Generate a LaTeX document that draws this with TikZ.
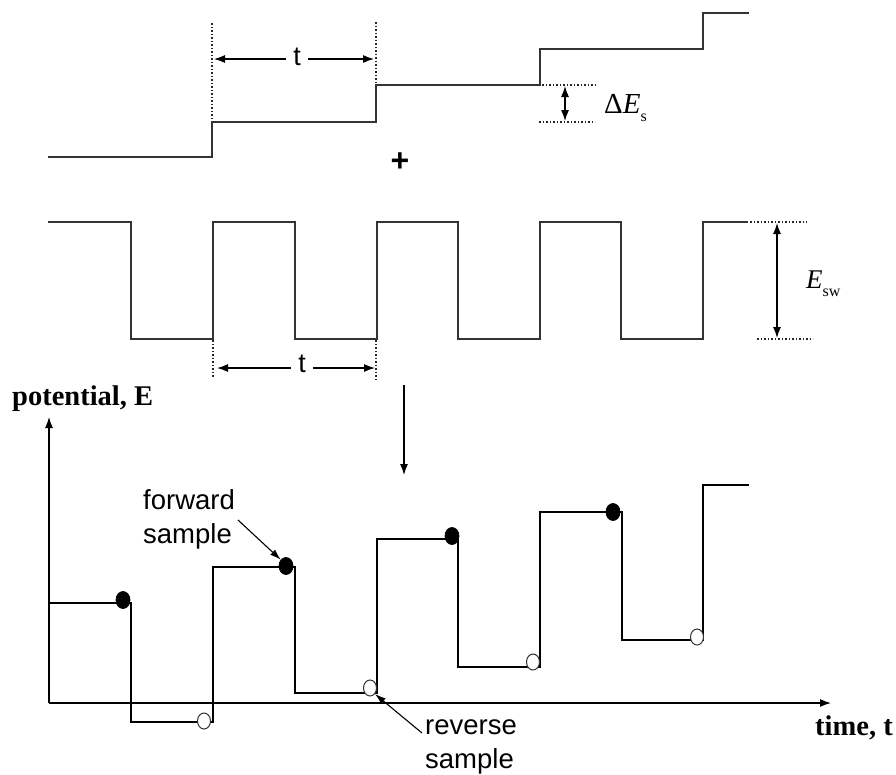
\documentclass[tikz,border=0pt]{standalone}
\usepackage{fontspec}
\setmainfont{Liberation Serif}
\newfontfamily\arialf{Liberation Sans}
\usetikzlibrary{arrows.meta,shapes.geometric}
\tikzset{
  wave/.style={line width=1.4pt, draw=black!80, line join=miter},
  outwave/.style={line width=1.2pt, draw=black, line join=miter},
  guide/.style={line width=2pt, dash pattern=on 1.6pt off 1.9pt, draw=black!85},
  dim/.style={line width=1.2pt, -{Latex[length=11pt,width=8pt]}},
  ddim/.style={line width=1.2pt, {Latex[length=11pt,width=8pt]}-{Latex[length=11pt,width=8pt]}},
  fwd/.style={fill=black, draw=black, line width=0.8pt, ellipse, minimum width=14pt, minimum height=17pt, inner sep=0pt},
  rev/.style={fill=white, draw=black!80, line width=1pt, ellipse, minimum width=13pt, minimum height=16pt, inner sep=0pt},
  sanslab/.style={font=\arialf\fontsize{27.5}{34}\selectfont, inner sep=0pt, align=left},
  serlab/.style={font=\bfseries\fontsize{28.5}{33}\selectfont, inner sep=0pt},
}
\begin{document}
\begin{tikzpicture}[x=1pt,y=-1pt]
\useasboundingbox (0,0) rectangle (896,774);
% ---------- top staircase ----------
\draw[wave] (48,157) -- (212,157) -- (212,122) -- (376,122) -- (376,85) -- (540,85) -- (540,49) -- (703,49) -- (703,13) -- (749,13);
\draw[guide] (212,23) -- (212,121);
\draw[guide] (376,22) -- (376,84);
\node[font=\arialf\fontsize{27}{30}\selectfont, inner sep=7pt] (ttop) at (297,57) {t};
\coordinate (ttopL) at (214,59);
\coordinate (ttopR) at (374,59);
\draw[dim] (ttop.west |- ttopL) -- (ttopL);
\draw[dim] (ttop.east |- ttopR) -- (ttopR);
% Delta E_s
\draw[guide] (542,85) -- (596,85);
\draw[guide] (539,122) -- (595,122);
\coordinate (dsA) at (565,86);
\coordinate (dsB) at (565,121);
\draw[ddim] (dsA) -- (dsB);
\node[anchor=base west, inner sep=0pt, font=\fontsize{29}{32}\selectfont] (dEs) at (604,113) {Δ\textit{E}\raisebox{-0.3em}{\fontsize{16}{17}\selectfont s}};
% plus
\node[font=\arialf\bfseries\fontsize{32}{32}\selectfont, inner sep=0pt] (plus) at (400,162) {+};
% ---------- square wave ----------
\draw[wave] (48,222) -- (131,222) -- (131,339) -- (213,339) -- (213,222) -- (295,222) -- (295,339) -- (377,339) -- (377,222) -- (458,222) -- (458,339) -- (540,339) -- (540,222) -- (621,222) -- (621,339) -- (703,339) -- (703,222) -- (748,222);
\draw[guide] (750,222) -- (807,222);
\draw[guide] (757,339) -- (813,339);
\coordinate (swA) at (777,223);
\coordinate (swB) at (777,338);
\draw[ddim] (swA) -- (swB);
\node[anchor=base west, inner sep=0pt, font=\fontsize{27}{30}\selectfont] (Esw) at (806,288) {\textit{E}\raisebox{-0.3em}{\fontsize{16}{17}\selectfont sw}};
\draw[guide] (213,340) -- (213,378);
\draw[guide] (376,340) -- (376,380);
\node[font=\arialf\fontsize{27}{30}\selectfont, inner sep=7pt] (tbot) at (302,364) {t};
\coordinate (tbotL) at (217,368);
\coordinate (tbotR) at (375,368);
\draw[dim] (tbot.west |- tbotL) -- (tbotL);
\draw[dim] (tbot.east |- tbotR) -- (tbotR);
% ---------- down arrow ----------
\coordinate (dA) at (404,385);
\coordinate (dB) at (404,475);
\draw[dim] (dA) -- (dB);
% ---------- axes ----------
\coordinate (O) at (49,703);
\coordinate (Ytip) at (49,417);
\coordinate (Xtip) at (831,703);
\draw[line width=1.2pt, -{Latex[length=11pt,width=8pt]}] (O) -- (Ytip);
\draw[line width=1.2pt, -{Latex[length=11pt,width=8pt]}] (O) -- (Xtip);
\node[serlab, anchor=base west] (ylab) at (12,405) {potential, E};
\node[serlab, anchor=base west] (xlab) at (815,735) {time, t};
% ---------- resulting waveform ----------
\draw[outwave] (49,603) -- (131,603) -- (131,722) -- (213,722) -- (213,567) -- (295,567) -- (295,693) -- (377,693) -- (377,539) -- (458,539) -- (458,667) -- (540,667) -- (540,512) -- (622,512) -- (622,640) -- (703,640) -- (703,485) -- (749,485);
\node[fwd] (f1) at (123,600) {};
\node[fwd] (f2) at (286,566) {};
\node[fwd] (f3) at (452,536) {};
\node[fwd] (f4) at (613,512) {};
\node[rev] (r1) at (204,721) {};
\node[rev] (r2) at (370,688) {};
\node[rev] (r3) at (533,662) {};
\node[rev] (r4) at (697,637) {};
% ---------- labels ----------
\node[sanslab, anchor=base west] (fwdlab) at (143,543) {forward\\sample};
\node[sanslab, anchor=base west] (revlab) at (425,768) {reverse\\sample};
\coordinate (fa) at (238,520);
\coordinate (ra) at (422,733);
\draw[line width=1.1pt, -{Latex[length=11pt,width=7pt]}] (fa) -- (f2.north west);
\draw[line width=1.1pt, -{Latex[length=11pt,width=7pt]}] (ra) -- (r2.south east);
\end{tikzpicture}
\end{document}
